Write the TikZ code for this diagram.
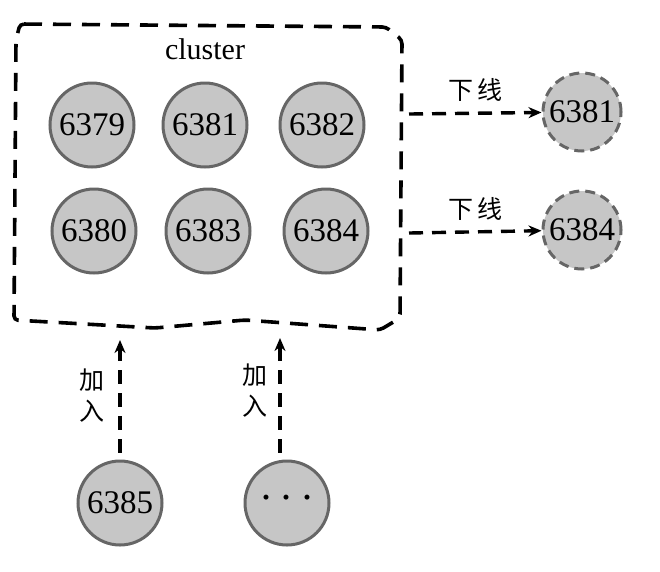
\documentclass[tikz,border=0pt]{standalone}
\usepackage{fontspec}
\setmainfont{Liberation Serif}
\newfontfamily\cjk{Noto Sans CJK SC}
\usetikzlibrary{arrows.meta}

\begin{document}
\begin{tikzpicture}[x=1pt, y=-1pt,
                    line width=3pt,
                    >={Stealth[length=13pt,width=11pt]}]
    \tikzstyle{server}=[circle,fill=gray!45,draw=black!60,line width=3pt,minimum size=84pt,inner sep=0pt,font=\fontsize{33}{33}\selectfont]
    \tikzstyle{offline}=[server, dash pattern=on 10pt off 6pt, minimum size=78pt];
    \tikzstyle{link}=[->, line width=3.4pt, dash pattern=on 14pt off 9pt];
    \tikzstyle{tag}=[font=\cjk\fontsize{25}{27}\selectfont, inner sep=0pt];

    \useasboundingbox (0,0) rectangle (660,571);

    % the cluster
    \draw[line width=3.6pt, dash pattern=on 18pt off 11pt, rounded corners=4pt]
        (20,24) -- (386,27) -- (402,40) -- (400,318) -- (380,330) -- (245,320)
        -- (155,328) -- (14,320) -- (16,40) -- cycle;
    \node[font=\fontsize{30}{30}\selectfont] (title) at (205,49) {cluster};

    \node[server] (s6379) at (92,125) {6379};
    \node[server] (s6381) at (205,125) {6381};
    \node[server] (s6382) at (322,125) {6382};
    \node[server] (s6380) at (94,231) {6380};
    \node[server] (s6383) at (208,231) {6383};
    \node[server] (s6384) at (326,231) {6384};

    % nodes going down
    \node[offline] (d6381) at (582,112) {6381};
    \node[offline] (d6384) at (582,230) {6384};
    \coordinate (out1) at (409,114);
    \coordinate (out2) at (409,233);
    \draw[link] (out1) -- node[tag, above=10pt] {下\,线} (d6381);
    \draw[link] (out2) -- node[tag, above=10pt] {下\,线} (d6384);

    % nodes joining
    \node[server] (j6385) at (120,503) {6385};
    \node[server] (jmore) at (287,503) {{\fontsize{42}{42}\selectfont ·\,·\,·}};
    \coordinate (in1) at (120,340);
    \coordinate (in2) at (280,338);
    \draw[link] (jmore.north -| in2) ++(0,-7) -- (in2);
    \draw[link] (j6385.north) ++(0,-7) -- (in1);
    \node[tag, align=center] (t1) at (92,396) {加\\[4pt]入};
    \node[tag, align=center] (t2) at (255,391) {加\\[4pt]入};
\end{tikzpicture}
\end{document}
